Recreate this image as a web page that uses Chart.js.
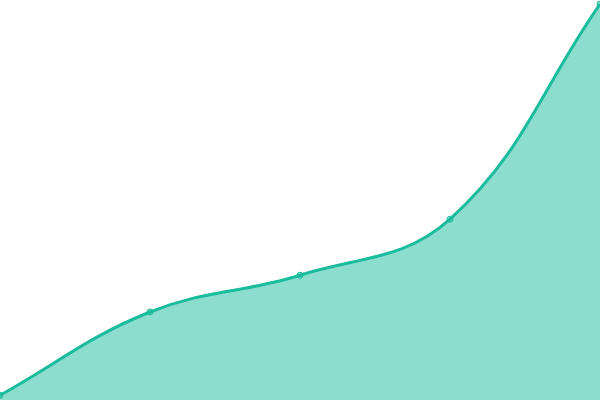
<!DOCTYPE html>
<html>
<head>
<meta charset="utf-8">
<script src="https://cdn.jsdelivr.net/npm/chart.js@4"></script>
<style>
  html, body { margin: 0; padding: 0; background: #fff; }
  #wrap { width: 600px; height: 400px; }
</style>
</head>
<body>
<div id="wrap"><canvas id="chart"></canvas></div>
<script>
const labels = ['A', 'B', 'C', 'D', 'E'];
const values = [1.2, 22, 31.2, 45.2, 99];

new Chart(document.getElementById('chart'), {
  type: 'line',
  data: {
    labels: labels,
    datasets: [{
      data: values,
      borderColor: '#1abc9c',
      backgroundColor: 'rgba(26, 188, 156, 0.5)',
      borderWidth: 3,
      fill: true,
      tension: 0.4,
      pointRadius: 3,
      pointBorderWidth: 1,
      pointBackgroundColor: 'rgba(26, 188, 156, 0.5)',
      pointBorderColor: '#1abc9c'
    }]
  },
  options: {
    responsive: true,
    maintainAspectRatio: false,
    animation: false,
    layout: { padding: 0, autoPadding: false },
    plugins: { legend: { display: false }, tooltip: { enabled: false } },
    scales: {
      x: { display: false },
      y: { display: false, min: 0, max: 100 }
    }
  }
});
</script>
</body>
</html>
